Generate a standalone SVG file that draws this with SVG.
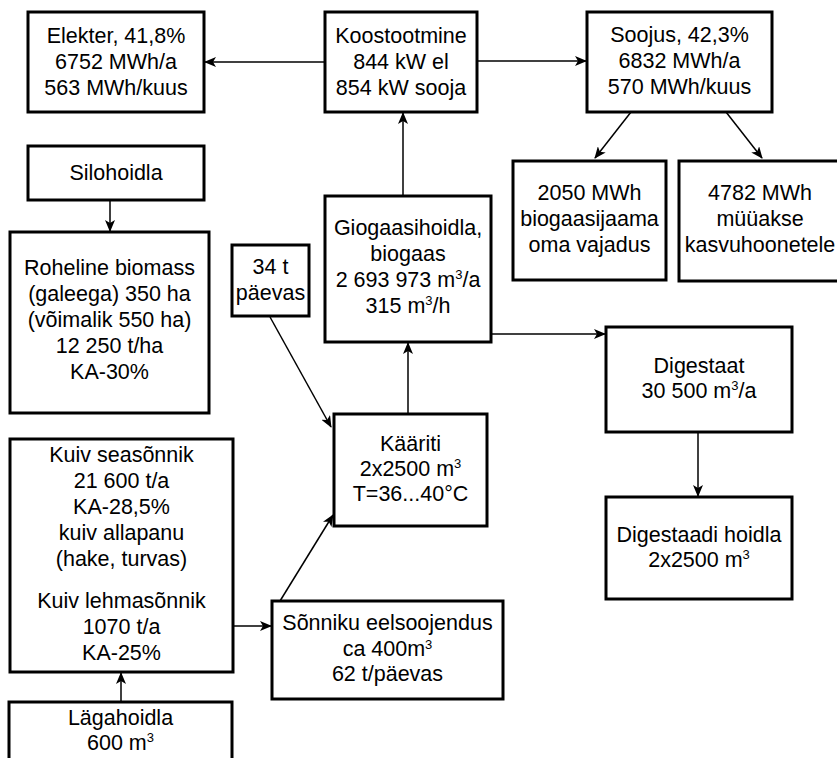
<svg xmlns="http://www.w3.org/2000/svg" width="837" height="758" viewBox="0 0 837 758">
<style>
.box{fill:#fff;stroke:#000;stroke-width:3}
.t{font-family:"Liberation Sans",Arial,sans-serif;font-size:21.5px;fill:#000;text-anchor:middle}
.sup{font-size:13px}
.c{fill:none;stroke:#000;stroke-width:1.5}
</style>
<defs>
<marker id="ah" markerUnits="userSpaceOnUse" markerWidth="12" markerHeight="10" refX="11" refY="5" orient="auto" viewBox="0 0 12 10">
<path d="M0,0 L12,5 L0,10 L3,5 z" fill="#000"/>
</marker>
</defs>
<rect width="837" height="758" fill="#fff"/>
<g id="connectors">
<path class="c" d="M325,62 L205,62" marker-end="url(#ah)"/>
<path class="c" d="M477,61 L586,61" marker-end="url(#ah)"/>
<path class="c" d="M403,196 L403,113" marker-end="url(#ah)"/>
<path class="c" d="M631,112 L595,158" marker-end="url(#ah)"/>
<path class="c" d="M726,112 L762,158" marker-end="url(#ah)"/>
<path class="c" d="M110,200 L110,231" marker-end="url(#ah)"/>
<path class="c" d="M270,317 L331,427" marker-end="url(#ah)"/>
<path class="c" d="M408,414 L408,343" marker-end="url(#ah)"/>
<path class="c" d="M491,334 L605,334" marker-end="url(#ah)"/>
<path class="c" d="M698,432 L698,496" marker-end="url(#ah)"/>
<path class="c" d="M233,626 L271,626" marker-end="url(#ah)"/>
<path class="c" d="M280,601 L333,515" marker-end="url(#ah)"/>
<path class="c" d="M121,702 L121,673" marker-end="url(#ah)"/>
</g>
<g id="elekter">
<rect class="box" x="28" y="12" width="176" height="100"/>
<text class="t" x="116" y="43">Elekter, 41,8%</text>
<text class="t" x="116" y="69">6752 MWh/a</text>
<text class="t" x="116" y="95">563 MWh/kuus</text>
</g>
<g id="koostootmine">
<rect class="box" x="325" y="12" width="152" height="100"/>
<text class="t" x="401" y="43">Koostootmine</text>
<text class="t" x="401" y="69">844 kW el</text>
<text class="t" x="401" y="95">854 kW sooja</text>
</g>
<g id="soojus">
<rect class="box" x="587" y="12" width="185" height="100"/>
<text class="t" x="679.5" y="42">Soojus, 42,3%</text>
<text class="t" x="679.5" y="68">6832 MWh/a</text>
<text class="t" x="679.5" y="94">570 MWh/kuus</text>
</g>
<g id="silohoidla">
<rect class="box" x="28" y="146" width="176" height="54"/>
<text class="t" x="116" y="180">Silohoidla</text>
</g>
<g id="oma-vajadus">
<rect class="box" x="513" y="161" width="153" height="119"/>
<text class="t" x="589.5" y="200">2050 MWh</text>
<text class="t" x="589.5" y="226">biogaasijaama</text>
<text class="t" x="589.5" y="252">oma vajadus</text>
</g>
<g id="kasvuhooned">
<rect class="box" x="679" y="161" width="170" height="120"/>
<text class="t" x="760" y="200">4782 MWh</text>
<text class="t" x="760" y="226">müüakse</text>
<text class="t" x="760" y="252">kasvuhoonetele</text>
</g>
<g id="roheline">
<rect class="box" x="10" y="232" width="199" height="181"/>
<text class="t" x="109.5" y="275">Roheline biomass</text>
<text class="t" x="109.5" y="301">(galeega) 350 ha</text>
<text class="t" x="109.5" y="327">(võimalik 550 ha)</text>
<text class="t" x="109.5" y="353">12 250 t/ha</text>
<text class="t" x="109.5" y="379">KA-30%</text>
</g>
<g id="paevas34">
<rect class="box" x="232" y="245" width="77" height="71"/>
<text class="t" x="270.5" y="274">34 t</text>
<text class="t" x="270.5" y="300">päevas</text>
</g>
<g id="giogaasihoidla">
<rect class="box" x="325" y="196" width="166" height="146"/>
<text class="t" x="408" y="235">Giogaasihoidla,</text>
<text class="t" x="408" y="261">biogaas</text>
<text class="t" x="408" y="287">2 693 973 m<tspan class="sup" dy="-8">3</tspan><tspan dy="8">/a</tspan></text>
<text class="t" x="408" y="313">315 m<tspan class="sup" dy="-8">3</tspan><tspan dy="8">/h</tspan></text>
</g>
<g id="digestaat">
<rect class="box" x="606" y="327" width="186" height="105"/>
<text class="t" x="699" y="373">Digestaat</text>
<text class="t" x="699" y="398">30 500 m<tspan class="sup" dy="-8">3</tspan><tspan dy="8">/a</tspan></text>
</g>
<g id="digestaadi-hoidla">
<rect class="box" x="606" y="497" width="186" height="102"/>
<text class="t" x="699" y="542">Digestaadi hoidla</text>
<text class="t" x="699" y="567">2x2500 m<tspan class="sup" dy="-8">3</tspan></text>
</g>
<g id="kaariti">
<rect class="box" x="334" y="414" width="153" height="112"/>
<text class="t" x="410.5" y="451">Kääriti</text>
<text class="t" x="410.5" y="476">2x2500 m<tspan class="sup" dy="-8">3</tspan></text>
<text class="t" x="410.5" y="501">T=36...40°C</text>
</g>
<g id="kuiv-sonnik">
<rect class="box" x="10" y="439" width="223" height="233"/>
<text class="t" x="121.5" y="462">Kuiv seasõnnik</text>
<text class="t" x="121.5" y="488">21 600 t/a</text>
<text class="t" x="121.5" y="514">KA-28,5%</text>
<text class="t" x="121.5" y="540">kuiv allapanu</text>
<text class="t" x="121.5" y="566">(hake, turvas)</text>
<text class="t" x="121.5" y="608">Kuiv lehmasõnnik</text>
<text class="t" x="121.5" y="634">1070 t/a</text>
<text class="t" x="121.5" y="660">KA-25%</text>
</g>
<g id="eelsoojendus">
<rect class="box" x="272" y="601" width="231" height="98"/>
<text class="t" x="387.5" y="630">Sõnniku eelsoojendus</text>
<text class="t" x="387.5" y="656">ca 400m<tspan class="sup" dy="-7">3</tspan></text>
<text class="t" x="387.5" y="681">62 t/päevas</text>
</g>
<g id="lagahoidla">
<rect class="box" x="9" y="702" width="223" height="70"/>
<text class="t" x="120.5" y="725">Lägahoidla</text>
<text class="t" x="120.5" y="750">600 m<tspan class="sup" dy="-8">3</tspan></text>
</g>
</svg>
